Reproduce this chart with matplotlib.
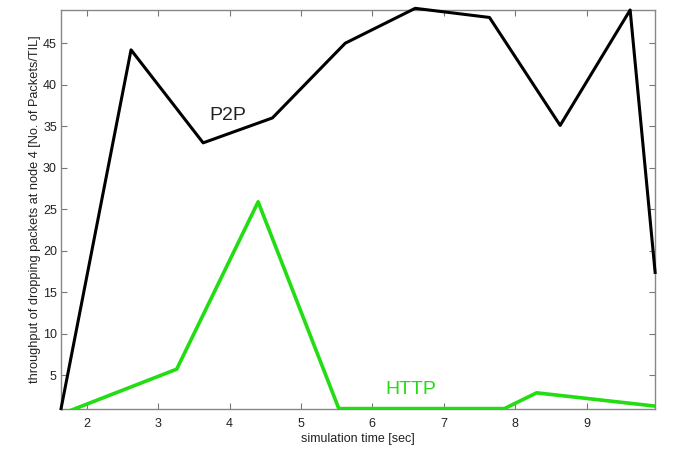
import matplotlib
matplotlib.use("Agg")
import matplotlib.pyplot as plt

plt.rcParams["font.family"] = ["Liberation Sans", "DejaVu Sans"]

# P2P series (simulation time, dropped packets)
p2p_time = [1.64, 2.62, 3.63, 4.60, 5.62, 6.60, 7.64, 8.63, 9.61, 9.96]
p2p_drop = [1.0, 44.2, 33.0, 36.0, 45.0, 49.2, 48.1, 35.1, 49.0, 17.4]

# HTTP series
http_time = [1.78, 3.26, 4.40, 5.53, 7.85, 8.30, 9.96]
http_drop = [0.8, 5.75, 25.9, 1.0, 1.0, 2.9, 1.3]

x_ticks = [2, 3, 4, 5, 6, 7, 8, 9]
y_ticks = [5, 10, 15, 20, 25, 30, 35, 40, 45]

fig = plt.figure(figsize=(6.86, 4.54), dpi=100)
ax = fig.add_axes([0.089, 0.100, 0.866, 0.878])

ax.plot(p2p_time, p2p_drop, color="black", linewidth=2.2, clip_on=False, zorder=3)
ax.plot(http_time, http_drop, color="#22dd11", linewidth=2.6, zorder=3)

ax.text(3.98, 36.3, "P2P", fontsize=14, color="#222222", ha="center", va="center")
ax.text(6.54, 3.3, "HTTP", fontsize=14, color="#22dd11", ha="center", va="center")

ax.set_xlim(1.64, 9.96)
ax.set_ylim(1.0, 49.0)
ax.set_xticks(x_ticks)
ax.set_yticks(y_ticks)
ax.tick_params(direction="in", top=True, right=True, length=4, width=0.8,
               colors="#777777", labelcolor="#222222", labelsize=9)
ax.tick_params(axis="x", pad=7)
ax.tick_params(axis="y", pad=3)
for spine in ax.spines.values():
    spine.set_color("#888888")
    spine.set_linewidth(1.0)

ax.set_xlabel("simulation time [sec]", fontsize=9, color="#222222", labelpad=2)
ax.set_ylabel("throughput of dropping packets at node 4 [No. of Packets/TIL]",
              fontsize=9.2, color="#222222", labelpad=1)

fig.savefig("out.png", dpi=100)
